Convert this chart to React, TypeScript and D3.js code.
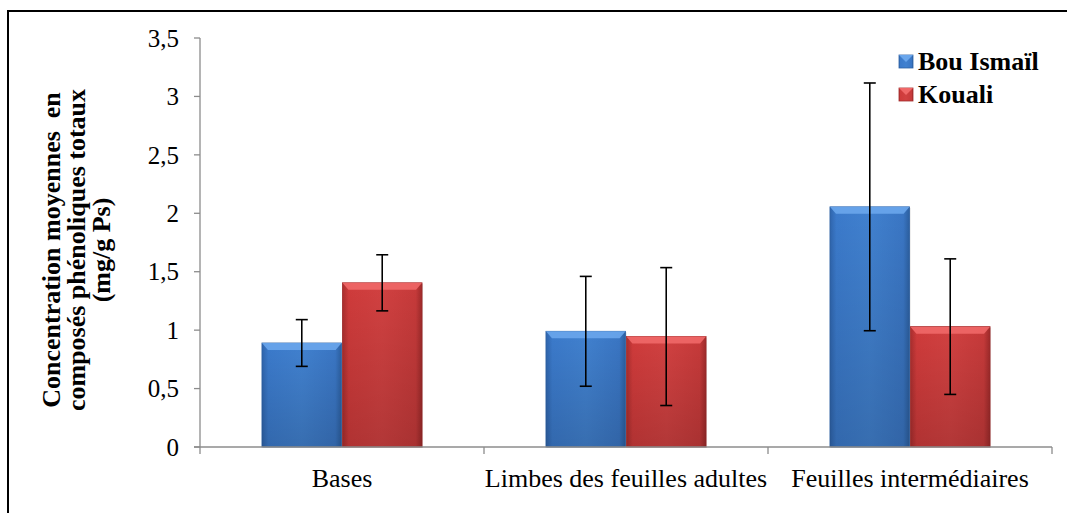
import React from "react";
import * as d3 from "d3";

const categories = ["Bases", "Limbes des feuilles adultes", "Feuilles intermédiaires"];
const seriesNames = ["Bou Ismaïl", "Kouali"];
const bouIsmail = [0.89, 0.99, 2.055];
const kouali = [1.405, 0.945, 1.03];
const bouIsmailErr = [0.2, 0.47, 1.06];
const koualiErr = [0.24, 0.59, 0.58];
const yTicks = [0, 0.5, 1, 1.5, 2, 2.5, 3, 3.5];

const W = 1067;
const H = 513;
const margin = { left: 200, right: 15, top: 38, bottom: 66 };
const serif = { fontFamily: "Liberation Serif" };

const App = () => {
    const x0 = d3
        .scaleBand()
        .domain(categories)
        .range([margin.left, 1052])
        .paddingInner(0)
        .paddingOuter(0);
    const x1 = d3
        .scaleBand()
        .domain(seriesNames)
        .range([0, x0.bandwidth()])
        .paddingInner(0.01)
        .paddingOuter(0.77);
    const y = d3.scaleLinear().domain([0, 3.5]).range([447, 38]);

    const series = [
        { name: seriesNames[0], values: bouIsmail, errs: bouIsmailErr, grad: "gBlue", top: "#6aa6ec", edge: "#2f62a3" },
        { name: seriesNames[1], values: kouali, errs: koualiErr, grad: "gRed", top: "#f06868", edge: "#a12b2b" },
    ];

    return (
        <svg width={W} height={H} style={{ position: "absolute", left: 0, top: 0 }}>
            <defs>
                <linearGradient id="gBlue" x1="0" x2="1" y1="0" y2="0">
                    <stop offset="0" stopColor="#2f65ad" />
                    <stop offset="0.08" stopColor="#3b7acb" />
                    <stop offset="0.5" stopColor="#4181cf" />
                    <stop offset="0.92" stopColor="#3a76c4" />
                    <stop offset="1" stopColor="#2c5f9f" />
                </linearGradient>
                <linearGradient id="gRed" x1="0" x2="1" y1="0" y2="0">
                    <stop offset="0" stopColor="#a92e2e" />
                    <stop offset="0.08" stopColor="#cf3b3b" />
                    <stop offset="0.5" stopColor="#d14141" />
                    <stop offset="0.92" stopColor="#c63a3a" />
                    <stop offset="1" stopColor="#9e2a2a" />
                </linearGradient>
                <linearGradient id="gShadeV" x1="0" x2="0" y1="0" y2="1">
                    <stop offset="0" stopColor="#000" stopOpacity="0" />
                    <stop offset="1" stopColor="#000" stopOpacity="0.15" />
                </linearGradient>
            </defs>

            {/* frame */}
            <rect x={8} y={11} width={1200} height={700} fill="#fff" stroke="#000" strokeWidth={2} />

            {/* bars */}
            {series.map((s) =>
                categories.map((c, i) => {
                    const bx = (x0(c) ?? 0) + (x1(s.name) ?? 0);
                    const bw = x1.bandwidth();
                    const by = y(s.values[i]);
                    const bh = y(0) - by;
                    return (
                        <g key={s.name + c}>
                            <rect x={bx + 1} y={by + 1} width={bw} height={bh} fill="#000" opacity={0.12} />
                            <rect x={bx} y={by} width={bw} height={bh} fill={`url(#${s.grad})`} stroke={s.edge} strokeWidth={0.8} />
                            <rect x={bx} y={by} width={bw} height={bh} fill="url(#gShadeV)" />
                            <path
                                d={`M${bx},${by} L${bx + bw},${by} L${bx + bw - 6},${by + 7} L${bx + 6},${by + 7} Z`}
                                fill={s.top}
                                opacity={0.9}
                            />
                        </g>
                    );
                })
            )}

            {/* error bars */}
            {series.map((s) =>
                categories.map((c, i) => {
                    const cx = (x0(c) ?? 0) + (x1(s.name) ?? 0) + x1.bandwidth() / 2;
                    const hi = y(s.values[i] + s.errs[i]);
                    const lo = y(s.values[i] - s.errs[i]);
                    return (
                        <g key={"e" + s.name + c} stroke="#000" strokeWidth={1.6}>
                            <line x1={cx} x2={cx} y1={hi} y2={lo} />
                            <line x1={cx - 6} x2={cx + 6} y1={hi} y2={hi} />
                            <line x1={cx - 6} x2={cx + 6} y1={lo} y2={lo} />
                        </g>
                    );
                })
            )}

            {/* axes */}
            <g stroke="#8c8c8c" strokeWidth={1.3}>
                <line x1={margin.left} x2={margin.left} y1={y(3.5)} y2={y(0) + 7} />
                {yTicks.map((t) => (
                    <line key={t} x1={margin.left - 6} x2={margin.left} y1={y(t)} y2={y(t)} />
                ))}
                <line x1={margin.left - 6} x2={1052} y1={y(0)} y2={y(0)} />
                {categories.map((c) => (
                    <line key={c} x1={(x0(c) ?? 0) + x0.bandwidth()} x2={(x0(c) ?? 0) + x0.bandwidth()} y1={y(0)} y2={y(0) + 7} />
                ))}
            </g>
            {yTicks.map((t) => (
                <text key={t} x={179} y={y(t)} dy="0.35em" textAnchor="end" fontSize={25} fill="#000" style={serif}>
                    {String(t).replace(".", ",")}
                </text>
            ))}

            {/* category labels */}
            {categories.map((c) => (
                <text key={c} x={(x0(c) ?? 0) + x0.bandwidth() / 2} y={487} textAnchor="middle" fontSize={26} fill="#000" style={serif}>
                    {c}
                </text>
            ))}

            {/* y title */}
            <g transform="translate(60,250) rotate(-90)" fontWeight="bold" fontSize={26} textAnchor="middle" fill="#000">
                <text x={0} y={0} style={{ ...serif, whiteSpace: "pre" }}>Concentration moyennes  en</text>
                <text x={0} y={25} style={serif}>composés phénoliques totaux</text>
                <text x={0} y={50} style={serif}>(mg/g Ps)</text>
            </g>

            {/* legend */}
            {series.map((s, i) => (
                <g key={"l" + s.name} transform={`translate(899,${55 + i * 33})`}>
                    <rect x={0} y={0} width={14} height={13} fill={`url(#${s.grad})`} stroke={s.edge} strokeWidth={0.8} />
                    <path d="M0,0 L14,0 L7,7 Z" fill={s.top} />
                    <text x={19} y={15} fontSize={26} fontWeight="bold" fill="#000" style={serif}>
                        {s.name}
                    </text>
                </g>
            ))}
        </svg>
    );
};

export default App;
